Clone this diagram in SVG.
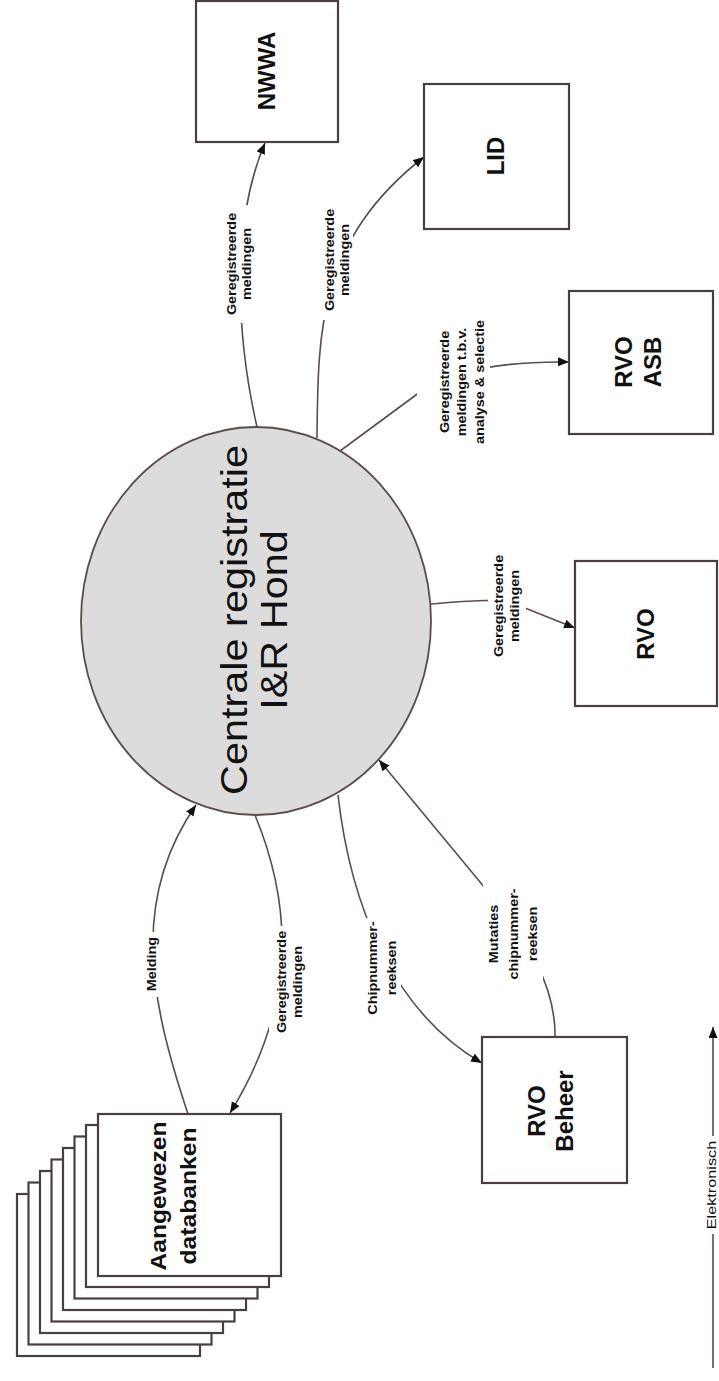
<svg xmlns="http://www.w3.org/2000/svg" width="719" height="1381" viewBox="0 0 719 1381">
<style>
.box{fill:#fff;stroke:#4a3f3d;stroke-width:2.2}
.ell{fill:#dcdcdc;stroke:#5c4d4a;stroke-width:1.8}
.con{fill:none;stroke:#5c4d4a;stroke-width:1.6}
.bg{fill:#fff;stroke:none}
.nl{font-family:"Liberation Sans",Arial,sans-serif;font-weight:bold;font-size:24px;fill:#111;text-anchor:middle}
.cl{font-family:"Liberation Sans",Arial,sans-serif;font-size:37px;fill:#111;text-anchor:middle}
.ll{font-family:"Liberation Sans",Arial,sans-serif;font-weight:bold;font-size:12.5px;fill:#111;text-anchor:middle}
.lg{font-family:"Liberation Sans",Arial,sans-serif;font-size:13px;fill:#111;text-anchor:middle}
</style>
<defs>
<marker id="ah" markerUnits="userSpaceOnUse" markerWidth="12" markerHeight="10" refX="11" refY="4.5" orient="auto">
<path d="M0,0 L11,4.5 L0,9 z" fill="#111"/>
</marker>
</defs>
<rect width="719" height="1381" fill="#fff"/>

<g id="connectors">
<path class="con" d="M257,427 C235,330 232,220 265,143" marker-end="url(#ah)"/>
<path class="con" d="M317,438 C318,330 318,240 424,157" marker-end="url(#ah)"/>
<path class="con" d="M340,451 L420,392 C450,372 500,361 569,362" marker-end="url(#ah)"/>
<path class="con" d="M430,604 C470,601 500,598 515,604 L575,628" marker-end="url(#ah)"/>
<path class="con" d="M188,1114 C150,1000 130,900 196,805" marker-end="url(#ah)"/>
<path class="con" d="M255,815 C290,900 300,1000 230,1113" marker-end="url(#ah)"/>
<path class="con" d="M338,795 C350,900 390,1010 482,1063" marker-end="url(#ah)"/>
<path class="con" d="M555,1037 C556,985 525,935 485,888 L379,760" marker-end="url(#ah)"/>
<path class="con" d="M713,1368 L713,1027" marker-end="url(#ah)"/>

<rect class="bg" x="221" y="205" width="35" height="118"/>
<rect class="bg" x="318" y="203" width="35" height="117"/>
<rect class="bg" x="417" y="312" width="73" height="138"/>
<rect class="bg" x="488" y="548" width="38" height="116"/>
<rect class="bg" x="142" y="932" width="18" height="65"/>
<rect class="bg" x="269" y="926" width="38" height="114"/>
<rect class="bg" x="361" y="918" width="40" height="104"/>
<rect class="bg" x="483" y="883" width="60" height="103"/>
<rect class="bg" x="700" y="1136" width="19" height="98"/>

<g transform="translate(0,264) rotate(-90) scale(1.15,1)">
<text class="ll" x="0" y="236">Geregistreerde</text>
<text class="ll" x="0" y="251">meldingen</text>
</g>
<g transform="translate(0,260) rotate(-90) scale(1.15,1)">
<text class="ll" x="0" y="334">Geregistreerde</text>
<text class="ll" x="0" y="349">meldingen</text>
</g>
<g transform="translate(0,382) rotate(-90) scale(1.15,1)">
<text class="ll" x="0" y="449">Geregistreerde</text>
<text class="ll" x="0" y="466">meldingen t.b.v.</text>
<text class="ll" x="0" y="484">analyse &amp; selectie</text>
</g>
<g transform="translate(0,606) rotate(-90) scale(1.15,1)">
<text class="ll" x="0" y="503">Geregistreerde</text>
<text class="ll" x="0" y="519">meldingen</text>
</g>
<g transform="translate(0,964) rotate(-90) scale(1.15,1)">
<text class="ll" x="0" y="156">Melding</text>
</g>
<g transform="translate(0,982) rotate(-90) scale(1.15,1)">
<text class="ll" x="0" y="286">Geregistreerde</text>
<text class="ll" x="0" y="302">meldingen</text>
</g>
<g transform="translate(0,968) rotate(-90) scale(1.15,1)">
<text class="ll" x="0" y="377">Chipnummer-</text>
<text class="ll" x="0" y="396">reeksen</text>
</g>
<g transform="translate(0,934) rotate(-90) scale(1.15,1)">
<text class="ll" x="0" y="498">Mutaties</text>
<text class="ll" x="0" y="518">chipnummer-</text>
<text class="ll" x="0" y="537">reeksen</text>
</g>
<g transform="translate(0,1185) rotate(-90) scale(1.25,1)">
<text class="lg" x="0" y="716">Elektronisch</text>
</g>
</g>

<g id="centrale">
<ellipse class="ell" cx="256" cy="621" rx="175" ry="194"/>
<g transform="translate(0,620) rotate(-90) scale(1.12,1)">
<text class="cl" x="0" y="247">Centrale registratie</text>
<text class="cl" x="0" y="287">I&amp;R Hond</text>
</g>
</g>

<g id="nwwa">
<rect class="box" x="196" y="1" width="142" height="141"/>
<text class="nl" transform="translate(275,71) rotate(-90)">NWWA</text>
</g>

<g id="lid">
<rect class="box" x="424" y="84" width="145" height="145"/>
<text class="nl" transform="translate(504,156) rotate(-90)">LID</text>
</g>

<g id="rvo-asb">
<rect class="box" x="569" y="291" width="144" height="143"/>
<g transform="translate(0,362) rotate(-90)">
<text class="nl" x="0" y="632">RVO</text>
<text class="nl" x="0" y="661">ASB</text>
</g>
</g>

<g id="rvo">
<rect class="box" x="575" y="561" width="142" height="145"/>
<text class="nl" transform="translate(654,634) rotate(-90)">RVO</text>
</g>

<g id="rvo-beheer">
<rect class="box" x="482" y="1037" width="145" height="146"/>
<g transform="translate(0,1111) rotate(-90)">
<text class="nl" x="0" y="545">RVO</text>
<text class="nl" x="0" y="573">Beheer</text>
</g>
</g>

<g id="databanken">
<rect class="box" x="17" y="1194" width="183" height="162"/>
<rect class="box" x="28.5" y="1182.5" width="183" height="162"/>
<rect class="box" x="40" y="1171" width="183" height="162"/>
<rect class="box" x="51.5" y="1159.5" width="183" height="162"/>
<rect class="box" x="63" y="1148" width="183" height="162"/>
<rect class="box" x="74.5" y="1136.5" width="183" height="162"/>
<rect class="box" x="86" y="1125" width="183" height="162"/>
<rect class="box" x="98" y="1114" width="183" height="162"/>
<g transform="translate(0,1196) rotate(-90) scale(1.12,1)">
<text class="nl" style="font-size:22px" x="0" y="166">Aangewezen</text>
<text class="nl" style="font-size:22px" x="0" y="196">databanken</text>
</g>
</g>
</svg>
